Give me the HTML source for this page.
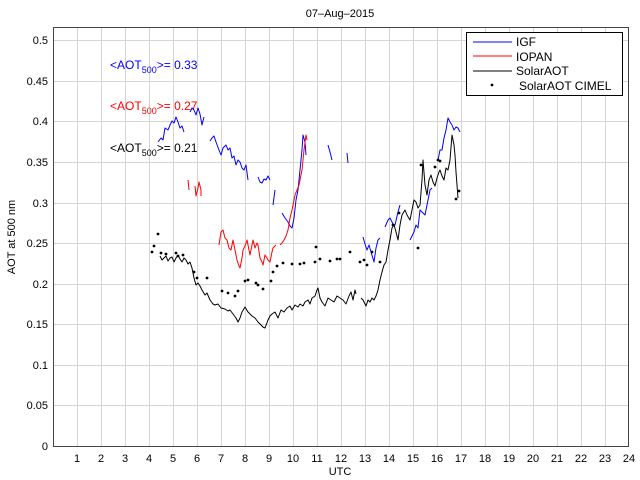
<!DOCTYPE html>
<html><head><meta charset="utf-8"><style>
html,body{margin:0;padding:0;background:#fff}
svg{display:block;font-family:"Liberation Sans",sans-serif}
</style></head><body>
<svg width="640" height="480" viewBox="0 0 640 480" xmlns="http://www.w3.org/2000/svg">
<rect width="640" height="480" fill="#fff"/>
<g stroke="#d4d4d4" stroke-width="1">
<line x1="77.5" y1="27" x2="77.5" y2="446"/><line x1="101.5" y1="27" x2="101.5" y2="446"/><line x1="125.5" y1="27" x2="125.5" y2="446"/><line x1="149.5" y1="27" x2="149.5" y2="446"/><line x1="173.5" y1="27" x2="173.5" y2="446"/><line x1="197.5" y1="27" x2="197.5" y2="446"/><line x1="221.5" y1="27" x2="221.5" y2="446"/><line x1="245.5" y1="27" x2="245.5" y2="446"/><line x1="269.5" y1="27" x2="269.5" y2="446"/><line x1="293.5" y1="27" x2="293.5" y2="446"/><line x1="317.5" y1="27" x2="317.5" y2="446"/><line x1="341.5" y1="27" x2="341.5" y2="446"/><line x1="365.5" y1="27" x2="365.5" y2="446"/><line x1="389.5" y1="27" x2="389.5" y2="446"/><line x1="413.5" y1="27" x2="413.5" y2="446"/><line x1="437.5" y1="27" x2="437.5" y2="446"/><line x1="461.5" y1="27" x2="461.5" y2="446"/><line x1="485.5" y1="27" x2="485.5" y2="446"/><line x1="509.5" y1="27" x2="509.5" y2="446"/><line x1="533.5" y1="27" x2="533.5" y2="446"/><line x1="557.5" y1="27" x2="557.5" y2="446"/><line x1="581.5" y1="27" x2="581.5" y2="446"/><line x1="605.5" y1="27" x2="605.5" y2="446"/>
<line x1="53" y1="40.5" x2="628" y2="40.5"/><line x1="53" y1="81.5" x2="628" y2="81.5"/><line x1="53" y1="121.5" x2="628" y2="121.5"/><line x1="53" y1="162.5" x2="628" y2="162.5"/><line x1="53" y1="203.5" x2="628" y2="203.5"/><line x1="53" y1="243.5" x2="628" y2="243.5"/><line x1="53" y1="284.5" x2="628" y2="284.5"/><line x1="53" y1="324.5" x2="628" y2="324.5"/><line x1="53" y1="365.5" x2="628" y2="365.5"/><line x1="53" y1="405.5" x2="628" y2="405.5"/>
</g>
<rect x="53.5" y="27.5" width="575" height="419" fill="none" stroke="#444" stroke-width="1"/>
<g font-size="11" fill="#000" text-anchor="end">
<text x="48" y="44">0.5</text><text x="48" y="85">0.45</text><text x="48" y="125">0.4</text><text x="48" y="166">0.35</text><text x="48" y="207">0.3</text><text x="48" y="247">0.25</text><text x="48" y="288">0.2</text><text x="48" y="328">0.15</text><text x="48" y="369">0.1</text><text x="48" y="409">0.05</text><text x="48" y="450">0</text>
</g>
<g font-size="11" fill="#000" text-anchor="middle">
<text x="77" y="462">1</text><text x="101" y="462">2</text><text x="125" y="462">3</text><text x="149" y="462">4</text><text x="173" y="462">5</text><text x="197" y="462">6</text><text x="221" y="462">7</text><text x="245" y="462">8</text><text x="269" y="462">9</text><text x="293" y="462">10</text><text x="317" y="462">11</text><text x="341" y="462">12</text><text x="365" y="462">13</text><text x="389" y="462">14</text><text x="413" y="462">15</text><text x="437" y="462">16</text><text x="461" y="462">17</text><text x="485" y="462">18</text><text x="509" y="462">19</text><text x="533" y="462">20</text><text x="557" y="462">21</text><text x="581" y="462">22</text><text x="605" y="462">23</text><text x="629" y="462">24</text>
<text x="340" y="475">UTC</text>
<text x="340" y="17">07–Aug–2015</text>
</g>
<text transform="translate(15,237) rotate(-90)" font-size="11" text-anchor="middle">AOT at 500 nm</text>

<g font-size="12">
<text x="110" y="69" fill="#0000ff">&lt;AOT<tspan font-size="9" dy="4">500</tspan><tspan dy="-4">&gt;= 0.33</tspan></text>
<text x="110" y="110" fill="#ff0000">&lt;AOT<tspan font-size="9" dy="4">500</tspan><tspan dy="-4">&gt;= 0.27</tspan></text>
<text x="110" y="152" fill="#000">&lt;AOT<tspan font-size="9" dy="4">500</tspan><tspan dy="-4">&gt;= 0.21</tspan></text>
</g>

<g fill="none" stroke-width="1" stroke-linejoin="round">
<g stroke="#0000ff">
<polyline points="158,142 161,138 163,140 165,128 168,130 170,125 172,121 174,123 176,117 178,122 180,128 182,126 184,132"/>
<polyline points="190,112 192,108 194,110 196,115 198,108 200,114 202,125 204,117"/>
<polyline points="210,141 212,138 214,136 216,142 219,150 221,155 223,148 226,145 228,150 230,148 232,158 234,156 236,165 238,160 240,162 242,168 244,170 246,165 248,180"/>
<polyline points="258,177 260,182 262,183 264,179 266,180 268,176 270,180"/>
<polyline points="273,205 275,190"/>
<polyline points="282,213 285,218 288,222 290,226 292,228 294,218 296,200 298,190 300,170 302,150 303,135 305,142 306,155"/>
<polyline points="328,145 330,152 332,160"/>
<polyline points="347,153 348,163"/>
<polyline points="363,237 365,244 367,250 369,245 371,252 374,262 376,248 378,240 380,238"/>
<polyline points="385,227 388,220 390,218 393,224 395,225 398,212 400,205"/>
<polyline points="410,240 412,236 414,232 416,225 418,228 420,210 422,212 425,215 428,200 430,190 432,188"/>
<polyline points="438,160 440,150 442,150 444,138 446,130 448,118 450,122 452,125 454,130 456,127 458,128 460,132"/>
</g>
<g stroke="#ff0000">
<polyline points="188,180 189,190"/>
<polyline points="195,186 196,196 198,188 199,182 201,190 201,196"/>
<polyline points="219,245 221,232 223,230 225,238 227,240 229,248 231,250 233,240 235,250 237,260 239,266 240,268 242,258 243,250 245,246 247,240 249,250 250,255 252,245 253,240 255,248 257,243 258,245 260,258 262,262 263,265 265,255 267,258 268,260 270,262 272,252 273,248 276,245"/>
<polyline points="280,245 282,243 284,240 286,236 288,230 290,218 292,210 294,200 295,195 297,190 299,185 301,175 302,170 303,160 304,150 306,135 307,140"/>
</g>
<g stroke="#000">
<polyline points="160,256 162,260 164,258 166,256 168,261 170,258 172,257 174,262 176,258 178,255 180,259 182,262 184,258 186,260 188,264 190,262 192,268 194,278 196,285 198,283 200,286 202,290 205,295 207,293 210,300 213,304 215,305 218,304 221,308 225,309 228,311 230,310 233,314 236,318 238,322 240,318 242,312 245,307 248,312 252,316 255,318 258,322 261,325 263,327 265,328 268,320 270,316 272,314 275,312 278,318 281,310 284,312 287,308 290,306 292,310 295,305 298,307 300,304 303,306 305,302 308,300 310,304 312,298 315,296 317,290 318,288 320,298 322,302 325,306 328,298 331,300 334,302 337,296 340,298 343,300 346,304 349,296 351,292 353,300 355,290 356,294"/>
<polyline points="361,298 363,300 366,306 368,300 370,302 372,298 374,300 376,296 378,290 380,280 382,272 384,265 386,262 388,250 390,240 392,228 394,225 396,232 398,240 400,225 402,215 405,210 407,215 410,220 412,210 414,200 416,202 418,208 420,205 422,180 423,160 425,185 427,195 429,180 431,175 433,182 435,186 437,178 439,172 440,170 442,176 444,180 446,168 448,170 450,160 452,135 454,145 455,155 456,172 457,185 458,198"/>
</g>
</g>
<g fill="#000">
<circle cx="152" cy="252" r="1.4"/><circle cx="154" cy="246" r="1.4"/><circle cx="158" cy="234" r="1.4"/><circle cx="161" cy="253" r="1.4"/><circle cx="166" cy="254" r="1.4"/><circle cx="176" cy="253" r="1.4"/><circle cx="178" cy="256" r="1.4"/><circle cx="183" cy="255" r="1.4"/><circle cx="194" cy="272" r="1.4"/><circle cx="197" cy="278" r="1.4"/><circle cx="207" cy="278" r="1.4"/><circle cx="222" cy="291" r="1.4"/><circle cx="228" cy="293" r="1.4"/><circle cx="235" cy="296" r="1.4"/><circle cx="238" cy="291" r="1.4"/><circle cx="245" cy="281" r="1.4"/><circle cx="248" cy="280" r="1.4"/><circle cx="256" cy="283" r="1.4"/><circle cx="258" cy="285" r="1.4"/><circle cx="263" cy="289" r="1.4"/><circle cx="271" cy="281" r="1.4"/><circle cx="273" cy="272" r="1.4"/><circle cx="277" cy="266" r="1.4"/><circle cx="283" cy="263" r="1.4"/><circle cx="292" cy="264" r="1.4"/><circle cx="300" cy="264" r="1.4"/><circle cx="304" cy="263" r="1.4"/><circle cx="315" cy="262" r="1.4"/><circle cx="316" cy="247" r="1.4"/><circle cx="320" cy="259" r="1.4"/><circle cx="330" cy="261" r="1.4"/><circle cx="337" cy="259" r="1.4"/><circle cx="340" cy="259" r="1.4"/><circle cx="350" cy="252" r="1.4"/><circle cx="360" cy="262" r="1.4"/><circle cx="364" cy="260" r="1.4"/><circle cx="367" cy="265" r="1.4"/><circle cx="372" cy="252" r="1.4"/><circle cx="380" cy="262" r="1.4"/><circle cx="393" cy="225" r="1.4"/><circle cx="399" cy="213" r="1.4"/><circle cx="418" cy="248" r="1.4"/><circle cx="421" cy="165" r="1.4"/><circle cx="435" cy="167" r="1.4"/><circle cx="438" cy="160" r="1.4"/><circle cx="440" cy="161" r="1.4"/><circle cx="456" cy="199" r="1.4"/><circle cx="459" cy="191" r="1.4"/>
</g>

<rect x="466.5" y="32.5" width="156" height="63" fill="#fff" stroke="#000" stroke-width="1"/>
<line x1="473" y1="42" x2="512" y2="42" stroke="#0000ff"/>
<line x1="473" y1="56" x2="512" y2="56" stroke="#ff0000"/>
<line x1="473" y1="71" x2="512" y2="71" stroke="#000"/>
<circle cx="492" cy="85" r="1.4" fill="#000"/>
<g font-size="12" fill="#000">
<text x="516" y="46">IGF</text>
<text x="516" y="61">IOPAN</text>
<text x="516" y="75">SolarAOT</text>
<text x="519" y="90">SolarAOT CIMEL</text>
</g>
</svg>
</body></html>
